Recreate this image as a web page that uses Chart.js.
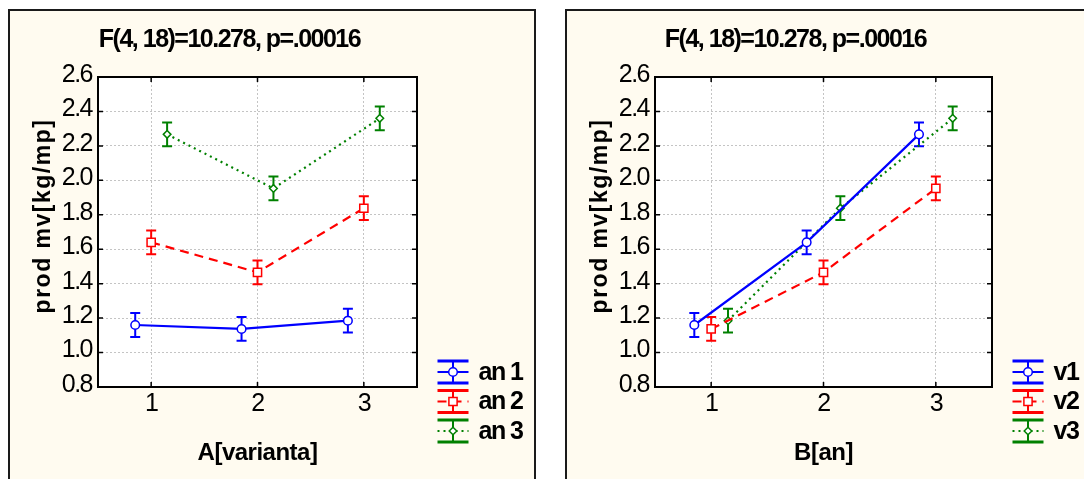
<!DOCTYPE html>
<html lang="ro">
<head>
<meta charset="UTF-8">
<title>prod mv [kg/mp]</title>
<script src="https://cdn.jsdelivr.net/npm/chart.js"></script>
<style>
  body { margin: 0; background: #fff; width: 1084px; height: 479px; overflow: hidden; position: relative; }
  .panel { position: absolute; box-sizing: border-box; border: 2px solid #1a1a1a; background: #fffbf0; }
  canvas { position: absolute; top: 0; }
</style>
</head>
<body>
<div class="panel" style="left:8px; top:9px; width:528px; height:490px;"></div>
<div class="panel" style="left:565px; top:9px; width:540px; height:490px;"></div>
<canvas id="left" width="540" height="479" style="left:0"></canvas>
<canvas id="right" width="544" height="479" style="left:540px"></canvas>

<script>
const FAMILY = '"Liberation Sans", Arial, sans-serif';
const titleText = 'F(4, 18)=10.278, p=.00016';
const yTitle = 'prod mv[kg/mp]';

const categories = [1, 2, 3];
const yTicks = [0.8, 1.0, 1.2, 1.4, 1.6, 1.8, 2.0, 2.2, 2.4, 2.6];

// left: A[varianta] on x, one line per year
const anLabels = ['an 1', 'an 2', 'an 3'];
const an1 = [1.160, 1.137, 1.185];
const an2 = [1.640, 1.466, 1.838];
const an3 = [2.267, 1.953, 2.360];

// right: B[an] on x, one line per variant
const vLabels = ['v1', 'v2', 'v3'];
const v1 = [1.160, 1.640, 2.267];
const v2 = [1.137, 1.466, 1.953];
const v3 = [1.185, 1.838, 2.360];

// half length of the error bars (same for every mean)
const errHalf = [0.069, 0.069, 0.069];

// series look
const colors = ['#0000ff', '#ff0000', '#008000'];
const dashes = [[], [9, 6], [2, 4]];
const pointStyles = ['circle', 'rect', 'rectRot'];
const radii = [4.3, 5.8, 3.8];
const shift = [-0.15, 0, 0.15];

function text(ctx, str, x, y, font, spacing, align, baseline) {
    ctx.save();
    ctx.font = font;
    ctx.letterSpacing = spacing;
    ctx.fillStyle = '#000';
    ctx.textAlign = align;
    ctx.textBaseline = baseline;
    ctx.fillText(str, x, y);
    ctx.restore();
}

const decor = {
    id: 'decor',
    beforeDraw(chart) {
        const {ctx, chartArea: a} = chart;
        ctx.save();
        ctx.fillStyle = '#fff';
        ctx.fillRect(a.left, a.top, a.right - a.left, a.bottom - a.top);
        ctx.restore();
        ctx.letterSpacing = '-1.5px';
    },
    beforeDatasetsDraw(chart) {
        const {ctx, chartArea: a, scales} = chart;
        ctx.save();
        ctx.letterSpacing = '0px';
        ctx.strokeStyle = '#000';
        ctx.lineWidth = 1.5;
        ctx.beginPath();
        scales.x.ticks.forEach(t => {
            const px = scales.x.getPixelForValue(t.value);
            ctx.moveTo(px, a.bottom); ctx.lineTo(px, a.bottom - 5);
            ctx.moveTo(px, a.top); ctx.lineTo(px, a.top + 5);
        });
        scales.y.ticks.forEach(t => {
            const py = scales.y.getPixelForValue(t.value);
            ctx.moveTo(a.left, py); ctx.lineTo(a.left + 5, py);
            ctx.moveTo(a.right, py); ctx.lineTo(a.right - 5, py);
        });
        ctx.stroke();
        ctx.lineWidth = 2;
        ctx.strokeRect(a.left, a.top, a.right - a.left, a.bottom - a.top);

        // error bars
        chart.data.datasets.forEach((ds, i) => {
            const meta = chart.getDatasetMeta(i);
            ctx.strokeStyle = colors[i];
            ctx.lineWidth = 2;
            ctx.beginPath();
            meta.data.forEach((pt, j) => {
                const v = ds.data[j].y;
                const yt = scales.y.getPixelForValue(v + errHalf[j]);
                const yb = scales.y.getPixelForValue(v - errHalf[j]);
                ctx.moveTo(pt.x, yt); ctx.lineTo(pt.x, yb);
                ctx.moveTo(pt.x - 5, yt); ctx.lineTo(pt.x + 5, yt);
                ctx.moveTo(pt.x - 5, yb); ctx.lineTo(pt.x + 5, yb);
            });
            ctx.stroke();
        });
        ctx.restore();
    },
    afterDraw(chart, args, opts) {
        const {ctx, chartArea: a} = chart;
        ctx.letterSpacing = '0px';
        const cx = (a.left + a.right) / 2;
        text(ctx, titleText, cx - 28, 46.5, 'bold 25px ' + FAMILY, '-1.5px', 'center', 'alphabetic');
        text(ctx, opts.xTitle, cx, 460, 'bold 24px ' + FAMILY, '-0.5px', 'center', 'alphabetic');

        ctx.save();
        ctx.translate(a.left - 54, 216);
        ctx.rotate(-Math.PI / 2);
        text(ctx, yTitle, 0, 0, 'bold 23px ' + FAMILY, '1.5px', 'center', 'middle');
        ctx.restore();

        // legend
        const lx = a.right + 36;
        chart.data.datasets.forEach((ds, i) => {
            const cy = 372 + i * 29.5;
            ctx.save();
            ctx.strokeStyle = colors[i];
            ctx.lineWidth = 3;
            ctx.beginPath();
            ctx.moveTo(lx - 15.5, cy - 11); ctx.lineTo(lx + 15.5, cy - 11);
            ctx.moveTo(lx - 15.5, cy + 11); ctx.lineTo(lx + 15.5, cy + 11);
            ctx.stroke();
            ctx.lineWidth = 2;
            ctx.beginPath();
            ctx.moveTo(lx, cy - 11); ctx.lineTo(lx, cy + 11);
            ctx.stroke();
            ctx.setLineDash(dashes[i]);
            ctx.beginPath();
            ctx.moveTo(lx - 15.5, cy); ctx.lineTo(lx + 15.5, cy);
            ctx.stroke();
            ctx.setLineDash([]);
            ctx.fillStyle = '#fff';
            ctx.lineWidth = 1.5;
            Chart.helpers.drawPoint(ctx, {pointStyle: pointStyles[i], radius: radii[i], borderWidth: 1.5, rotation: 0}, lx, cy);
            ctx.restore();
            text(ctx, ds.label, a.right + 61.5, cy + 1, 'bold 25px ' + FAMILY, '-1.5px', 'left', 'middle');
        });
    }
};

function makeChart(id, plot, cw, labels, series, xTitle) {
    const datasets = series.map((vals, i) => ({
        label: labels[i],
        data: categories.map((c, j) => ({x: c + shift[i], y: vals[j]})),
        borderColor: colors[i],
        borderWidth: 2.2,
        borderDash: dashes[i],
        pointStyle: pointStyles[i],
        pointRadius: radii[i],
        pointHoverRadius: radii[i],
        pointBackgroundColor: '#fff',
        pointBorderColor: colors[i],
        pointBorderWidth: 1.5,
        fill: false,
        tension: 0
    }));
    const tickFont = {family: FAMILY, size: 25};
    return new Chart(document.getElementById(id), {
        type: 'line',
        data: {datasets},
        plugins: [decor],
        options: {
            responsive: false,
            devicePixelRatio: 1,
            animation: false,
            events: [],
            layout: {padding: {left: 0, top: plot.top, right: cw - plot.right, bottom: 0}},
            plugins: {
                legend: {display: false},
                title: {display: false},
                tooltip: {enabled: false},
                decor: {xTitle}
            },
            scales: {
                x: {
                    type: 'linear', min: 0.5, max: 3.5,
                    afterBuildTicks: s => { s.ticks = categories.map(v => ({value: v})); },
                    afterFit: s => { s.height = 479 - plot.bottom; },
                    grid: {color: '#c4c4c4', lineWidth: 1, drawTicks: false},
                    border: {display: false, dash: [2, 2]},
                    ticks: {font: tickFont, color: '#000', padding: 2, maxRotation: 0, autoSkip: false,
                            callback: v => String(v)}
                },
                y: {
                    min: 0.8, max: 2.6,
                    afterBuildTicks: s => { s.ticks = yTicks.map(v => ({value: v})); },
                    afterFit: s => { s.width = plot.left; },
                    grid: {color: '#c4c4c4', lineWidth: 1, drawTicks: false},
                    border: {display: false, dash: [2, 2]},
                    ticks: {font: tickFont, color: '#000', padding: 6, labelOffset: -2, autoSkip: false,
                            callback: v => v.toFixed(1)}
                }
            }
        }
    });
}

makeChart('left', {left: 98, right: 417, top: 77, bottom: 387}, 540, anLabels, [an1, an2, an3], 'A[varianta]');
makeChart('right', {left: 115, right: 452, top: 77, bottom: 387}, 544, vLabels, [v1, v2, v3], 'B[an]');
</script>
</body>
</html>
